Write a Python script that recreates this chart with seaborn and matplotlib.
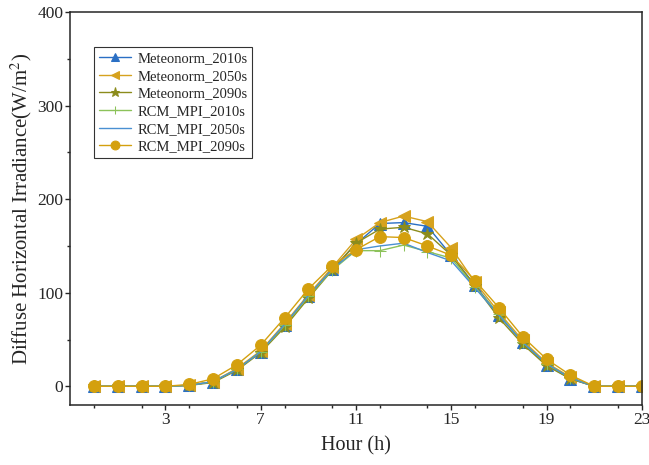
import matplotlib
matplotlib.use('Agg')
import matplotlib.pyplot as plt
import seaborn as sns
from matplotlib.ticker import MultipleLocator

# Hourly diffuse horizontal irradiance (W/m2), hours 0-23
hours = list(range(24))
meteonorm_2010s = [0, 0, 0, 0, 1, 5, 18, 37, 65, 96, 125, 152, 174, 175, 171, 140, 108, 76, 47, 23, 8, 0, 0, 0]
meteonorm_2050s = [0, 0, 0, 0, 1, 5, 19, 38, 67, 98, 127, 157, 175, 182, 176, 148, 111, 79, 49, 25, 10, 0, 0, 0]
meteonorm_2090s = [0, 0, 0, 0, 1, 4, 17, 36, 63, 94, 124, 153, 168, 170, 163, 140, 107, 73, 45, 22, 8, 0, 0, 0]
rcm_mpi_2010s = [0, 0, 0, 0, 1, 5, 18, 37, 65, 96, 124, 145, 145, 151, 144, 137, 106, 77, 47, 24, 9, 0, 0, 0]
rcm_mpi_2050s = [0, 0, 0, 0, 1, 5, 18, 37, 66, 97, 125, 146, 150, 153, 143, 134, 105, 76, 47, 24, 9, 0, 0, 0]
rcm_mpi_2090s = [0, 0, 0, 0, 2, 8, 23, 44, 73, 104, 129, 146, 160, 159, 150, 140, 113, 84, 53, 29, 12, 0, 0, 0]

series = [
    ('Meteonorm_2010s', meteonorm_2010s, '#2a6fc4', '^', 8),
    ('Meteonorm_2050s', meteonorm_2050s, '#d6a21e', '<', 8),
    ('Meteonorm_2090s', meteonorm_2090s, '#8c8c1c', '*', 9),
    ('RCM_MPI_2010s', rcm_mpi_2010s, '#8cc25a', '+', 8),
    ('RCM_MPI_2050s', rcm_mpi_2050s, '#4a90d2', None, 0),
    ('RCM_MPI_2090s', rcm_mpi_2090s, '#d4a00e', 'o', 8.5),
]

sns.set_style('ticks')
plt.rcParams['font.family'] = ['Liberation Serif', 'DejaVu Serif']
plt.rcParams['mathtext.fontset'] = 'stix'

fig, ax = plt.subplots(figsize=(6.49, 4.65), dpi=100)
fig.subplots_adjust(left=0.108, right=0.989, bottom=0.129, top=0.974)

for name, vals, color, marker, ms in series:
    sns.lineplot(x=hours, y=vals, ax=ax, color=color, marker=marker,
                 markersize=ms, markeredgecolor=color, linewidth=1.0,
                 label=name)

ax.set_xlim(-1, 23)
ax.set_ylim(-20, 400)
ax.set_xticks([3, 7, 11, 15, 19, 23])
ax.xaxis.set_minor_locator(MultipleLocator(2))
ax.yaxis.set_major_locator(MultipleLocator(100))
ax.yaxis.set_minor_locator(MultipleLocator(50))
ax.tick_params(which='major', direction='out', length=3.5, width=1, labelsize=12.5, pad=1.5)
ax.tick_params(which='minor', direction='out', length=2.2, width=1)
for sp in ax.spines.values():
    sp.set_visible(True)
    sp.set_linewidth(1.1)

ax.set_xlabel('Hour (h)', fontsize=14.5, labelpad=6)
ax.set_ylabel('Diffuse Horizontal Irradiance(W/m$^2$)', fontsize=15, labelpad=2)

leg = ax.legend(loc='upper left', bbox_to_anchor=(0.042, 0.911), fontsize=10.5,
                frameon=True, fancybox=False, edgecolor='black',
                handlelength=2.2, labelspacing=0.3, borderpad=0.35,
                handletextpad=0.4, borderaxespad=0, markerscale=0.75)
leg.get_frame().set_linewidth(0.8)

fig.savefig('out.png', dpi=100)
